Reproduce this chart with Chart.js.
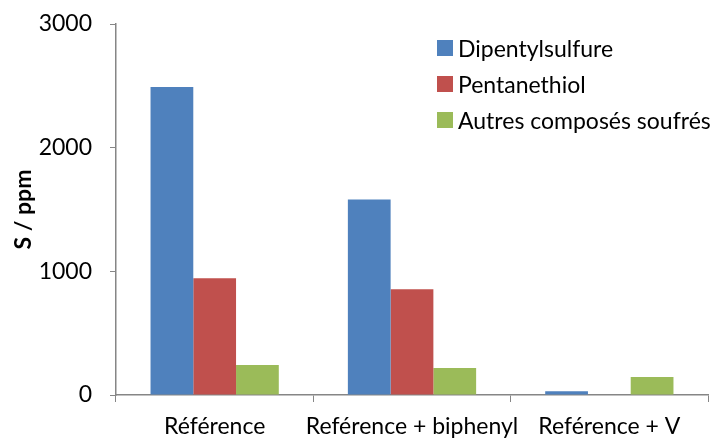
<!DOCTYPE html>
<html lang="fr">
<head>
    <meta charset="UTF-8">
    <title>S / ppm</title>
    <script src="https://cdn.jsdelivr.net/npm/chart.js@4.4.1/dist/chart.umd.min.js"></script>
    <style>
        html, body { margin: 0; padding: 0; background: #fff; }
        .wrap { position: relative; width: 710px; height: 439px; }
        #legend { position: absolute; left: 437px; top: 30px; font-family: Lato, sans-serif; font-size: 23px; color: #000; }
        #legend div { height: 36px; display: flex; align-items: center; white-space: nowrap; }
        #legend span.box { width: 16px; height: 16px; margin-right: 5px; display: inline-block; }
    </style>
</head>
<body>
    <div class="wrap">
        <canvas id="chart" width="710" height="439"></canvas>
        <div id="legend"></div>
    </div>
    <script>
        // Categories and series
        const categories = ['Référence', 'Reférence + biphenyl', 'Reférence + V'];
        const seriesNames = ['Dipentylsulfure', 'Pentanethiol', 'Autres composés soufrés'];
        const dipentylsulfure = [2490, 1580, 30];
        const pentanethiol = [945, 855, 0];
        const autres = [243, 218, 145];
        const colors = ['#4f81bd', '#c0504d', '#9bbb59'];
        const yTicks = [0, 1000, 2000, 3000];

        const values = [dipentylsulfure, pentanethiol, autres];
        const datasets = seriesNames.map((name, i) => ({
            label: name,
            data: values[i],
            backgroundColor: colors[i],
            borderWidth: 0
        }));

        // legend drawn as html, placed over the plot like the original
        const legend = document.getElementById('legend');
        seriesNames.forEach((name, i) => {
            const row = document.createElement('div');
            row.innerHTML = '<span class="box" style="background:' + colors[i] + '"></span>' + name;
            legend.appendChild(row);
        });

        const font = { family: 'Lato, sans-serif', size: 23 };

        new Chart(document.getElementById('chart'), {
            type: 'bar',
            data: { labels: categories, datasets: datasets },
            options: {
                responsive: false,
                animation: false,
                layout: { padding: { top: 24, right: 2, left: 10, bottom: 0 } },
                datasets: { bar: { categoryPercentage: 0.65, barPercentage: 1 } },
                scales: {
                    x: {
                        grid: { display: true, drawOnChartArea: false, tickLength: 7, color: '#868686', offset: true },
                        border: { color: '#868686', width: 1.5 },
                        ticks: { color: '#000', font: font, padding: 11, maxRotation: 0, autoSkip: false },
                        afterFit: s => { s.height = 44; s.paddingLeft = 0; s.paddingRight = 0; }
                    },
                    y: {
                        min: 0,
                        max: 3000,
                        afterBuildTicks: s => { s.ticks = yTicks.map(v => ({ value: v })); },
                        grid: { display: true, drawOnChartArea: false, tickLength: 6, color: '#868686' },
                        border: { color: '#868686', width: 1.5 },
                        ticks: { color: '#000', font: font, padding: 18, callback: v => String(v) },
                        title: { display: true, text: 'S / ppm', color: '#000', font: { family: 'Lato, sans-serif', size: 23, weight: 'bold' }, padding: 0 },
                        afterFit: s => { s.width = 106; s.paddingTop = 0; s.paddingBottom = 0; }
                    }
                },
                plugins: {
                    legend: { display: false },
                    tooltip: { enabled: false }
                }
            }
        });
    </script>
</body>
</html>
